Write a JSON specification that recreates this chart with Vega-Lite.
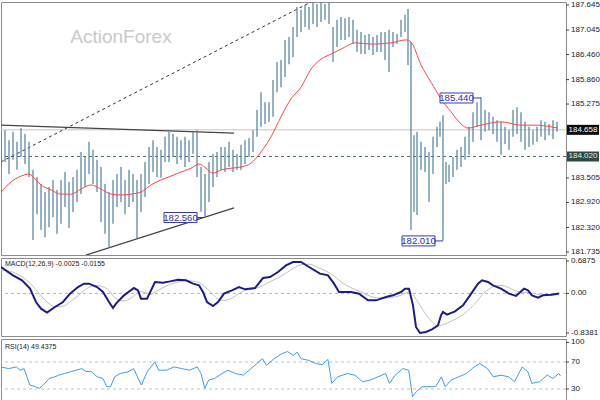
{
"$schema": "https://vega.github.io/schema/vega-lite/v6.json",
"padding": 0,
"spacing": 3,
"bounds": "flush",
"background": "white",
"config": {"view": {"stroke": "#8a8a8a"}, "axis": {"disable": true}},
"vconcat": [
{
"width": 565, "height": 253,
"layer": [
{"data": {"values": [{"p": 184.658}]}, "mark": {"type": "rule", "color": "#c4c4c4", "strokeWidth": 1},
 "encoding": {"y": {"field": "p", "type": "quantitative", "title": null, "scale": {"domain": [181.663, 187.717], "nice": false, "zero": false}}}},
{"data": {"values": [{"p": 184.02}]}, "mark": {"type": "rule", "color": "#4f6e66", "strokeWidth": 1, "strokeDash": [3, 3]},
 "encoding": {"y": {"field": "p", "type": "quantitative", "title": null}}},
{"data": {"values": [{"label": "ActionForex"}]}, "mark": {"type": "text", "font": "Liberation Sans", "fontSize": 19, "color": "#c9c9c9", "align": "center", "baseline": "middle"},
 "encoding": {"x": {"datum": 120, "type": "quantitative", "scale": {"domain": [0, 565], "nice": false, "zero": false}},
  "y": {"datum": 186.88, "type": "quantitative", "title": null}, "text": {"field": "label"}}},
{"data": {"values": [{"x1": 0, "y1": 183.89, "x2": 310, "y2": 187.717}]}, "mark": {"type": "rule", "color": "#333", "strokeWidth": 1, "strokeDash": [3, 3], "clip": true},
 "encoding": {"x": {"field": "x1", "type": "quantitative"}, "x2": {"field": "x2"},
  "y": {"field": "y1", "type": "quantitative", "title": null}, "y2": {"field": "y2"}}},
{"data": {"values": [{"x1": 0, "y1": 184.77, "x2": 233, "y2": 184.58}, {"x1": 85, "y1": 181.66, "x2": 233, "y2": 182.79}]}, "mark": {"type": "rule", "color": "#444", "strokeWidth": 1.2, "clip": true},
 "encoding": {"x": {"field": "x1", "type": "quantitative"}, "x2": {"field": "x2"},
  "y": {"field": "y1", "type": "quantitative", "title": null}, "y2": {"field": "y2"}}},
{"data": {"values": [
{"t":0,"hi":184.49,"lo":183.70},{"t":4,"hi":184.65,"lo":183.89},{"t":8,"hi":184.41,"lo":183.60},{"t":12,"hi":184.61,"lo":183.94},{"t":16,"hi":184.37,"lo":183.70},{"t":20,"hi":184.70,"lo":184.01},{"t":24,"hi":184.56,"lo":183.84},{"t":28,"hi":184.37,"lo":183.53},{"t":32,"hi":183.70,"lo":182.02},{"t":36,"hi":183.53,"lo":182.64},{"t":40,"hi":183.36,"lo":182.26},{"t":44,"hi":183.17,"lo":182.09},{"t":48,"hi":183.29,"lo":182.33},{"t":52,"hi":183.46,"lo":182.57},{"t":56,"hi":183.22,"lo":182.17},{"t":60,"hi":183.46,"lo":182.41},{"t":64,"hi":183.65,"lo":182.81},{"t":68,"hi":183.41,"lo":182.31},{"t":72,"hi":183.53,"lo":182.69},{"t":76,"hi":183.70,"lo":182.93},{"t":80,"hi":184.13,"lo":183.12},{"t":84,"hi":184.01,"lo":183.29},{"t":88,"hi":184.37,"lo":183.60},{"t":92,"hi":184.18,"lo":183.36},{"t":96,"hi":183.94,"lo":183.17},{"t":100,"hi":183.77,"lo":182.45},{"t":104,"hi":183.36,"lo":182.17},{"t":108,"hi":183.17,"lo":181.85},{"t":112,"hi":183.46,"lo":182.41},{"t":116,"hi":183.60,"lo":182.81},{"t":120,"hi":183.77,"lo":182.93},{"t":124,"hi":183.46,"lo":182.64},{"t":128,"hi":183.70,"lo":182.81},{"t":132,"hi":183.60,"lo":182.93},{"t":136,"hi":183.46,"lo":182.07},{"t":140,"hi":183.60,"lo":182.69},{"t":144,"hi":183.89,"lo":183.05},{"t":148,"hi":184.25,"lo":183.36},{"t":152,"hi":184.41,"lo":183.65},{"t":156,"hi":184.25,"lo":183.53},{"t":160,"hi":184.18,"lo":183.51},{"t":164,"hi":184.49,"lo":183.89},{"t":168,"hi":184.61,"lo":183.89},{"t":172,"hi":184.56,"lo":184.01},{"t":176,"hi":184.49,"lo":183.84},{"t":180,"hi":184.41,"lo":183.94},{"t":184,"hi":184.49,"lo":183.77},{"t":188,"hi":184.41,"lo":183.89},{"t":192,"hi":184.61,"lo":184.08},{"t":196,"hi":184.65,"lo":183.53},{"t":200,"hi":183.77,"lo":182.70},{"t":204,"hi":183.60,"lo":182.56},{"t":208,"hi":183.89,"lo":182.93},{"t":212,"hi":184.08,"lo":183.29},{"t":216,"hi":184.13,"lo":183.53},{"t":220,"hi":184.25,"lo":183.70},{"t":224,"hi":184.25,"lo":183.65},{"t":228,"hi":184.37,"lo":183.77},{"t":232,"hi":184.18,"lo":183.65},{"t":236,"hi":184.08,"lo":183.70},{"t":240,"hi":184.30,"lo":183.70},{"t":244,"hi":184.41,"lo":183.84},{"t":248,"hi":184.46,"lo":184.01},{"t":252,"hi":184.65,"lo":184.13},{"t":256,"hi":185.13,"lo":184.49},{"t":260,"hi":185.56,"lo":184.73},{"t":264,"hi":185.32,"lo":184.80},{"t":268,"hi":185.32,"lo":184.85},{"t":272,"hi":185.85,"lo":184.97},{"t":276,"hi":186.28,"lo":185.56},{"t":280,"hi":186.33,"lo":185.68},{"t":284,"hi":186.81,"lo":185.92},{"t":288,"hi":186.88,"lo":186.23},{"t":292,"hi":187.12,"lo":186.40},{"t":296,"hi":187.60,"lo":186.88},{"t":300,"hi":187.53,"lo":187.00},{"t":304,"hi":187.65,"lo":187.12},{"t":308,"hi":187.60,"lo":187.05},{"t":312,"hi":187.71,"lo":187.19},{"t":316,"hi":187.67,"lo":187.12},{"t":320,"hi":187.71,"lo":187.24},{"t":324,"hi":187.67,"lo":187.29},{"t":328,"hi":187.71,"lo":187.19},{"t":332,"hi":187.12,"lo":186.28},{"t":336,"hi":187.29,"lo":186.64},{"t":340,"hi":187.36,"lo":186.81},{"t":344,"hi":187.33,"lo":186.81},{"t":348,"hi":187.36,"lo":186.88},{"t":352,"hi":187.29,"lo":186.71},{"t":356,"hi":187.05,"lo":186.52},{"t":360,"hi":187.00,"lo":186.47},{"t":364,"hi":186.93,"lo":186.47},{"t":368,"hi":186.95,"lo":186.57},{"t":372,"hi":186.88,"lo":186.45},{"t":376,"hi":186.93,"lo":186.52},{"t":380,"hi":187.00,"lo":186.52},{"t":384,"hi":187.00,"lo":186.33},{"t":388,"hi":187.05,"lo":186.04},{"t":392,"hi":187.00,"lo":186.64},{"t":396,"hi":186.95,"lo":186.71},{"t":400,"hi":187.29,"lo":186.88},{"t":404,"hi":187.41,"lo":187.00},{"t":407,"hi":187.55,"lo":186.21},{"t":410,"hi":186.76,"lo":182.26},{"t":413,"hi":184.53,"lo":182.69},{"t":416,"hi":184.61,"lo":182.62},{"t":420,"hi":184.37,"lo":183.70},{"t":424,"hi":184.25,"lo":183.65},{"t":428,"hi":184.13,"lo":182.93},{"t":432,"hi":184.49,"lo":183.60},{"t":436,"hi":184.73,"lo":184.25},{"t":439,"hi":184.85,"lo":184.49},{"t":442,"hi":185.01,"lo":182.01},{"t":445,"hi":183.89,"lo":183.36},{"t":448,"hi":183.82,"lo":183.41},{"t":452,"hi":184.01,"lo":183.53},{"t":456,"hi":184.18,"lo":183.70},{"t":460,"hi":184.25,"lo":183.77},{"t":464,"hi":184.49,"lo":183.94},{"t":468,"hi":184.73,"lo":184.06},{"t":472,"hi":185.08,"lo":184.37},{"t":476,"hi":185.32,"lo":184.73},{"t":480,"hi":185.44,"lo":184.41},{"t":484,"hi":185.13,"lo":184.61},{"t":488,"hi":185.08,"lo":184.65},{"t":492,"hi":184.97,"lo":184.56},{"t":496,"hi":184.89,"lo":184.37},{"t":500,"hi":184.85,"lo":184.06},{"t":504,"hi":184.73,"lo":184.32},{"t":508,"hi":184.65,"lo":184.18},{"t":512,"hi":185.13,"lo":184.49},{"t":516,"hi":185.20,"lo":184.56},{"t":520,"hi":185.08,"lo":184.37},{"t":524,"hi":184.85,"lo":184.18},{"t":528,"hi":184.73,"lo":184.25},{"t":532,"hi":184.65,"lo":184.30},{"t":536,"hi":184.73,"lo":184.37},{"t":540,"hi":184.89,"lo":184.49},{"t":544,"hi":184.85,"lo":184.41},{"t":548,"hi":184.80,"lo":184.53},{"t":552,"hi":184.89,"lo":184.44},{"t":556,"hi":184.85,"lo":184.61}
]}, "mark": {"type": "rule", "color": "#5e8aa5", "strokeWidth": 1.3, "clip": true},
 "encoding": {"x": {"field": "t", "type": "quantitative"},
  "y": {"field": "lo", "type": "quantitative", "title": null}, "y2": {"field": "hi"}}},
{"data": {"values": [
{"t":0,"ma":183.17},{"t":10,"ma":183.41},{"t":20,"ma":183.55},{"t":28,"ma":183.60},{"t":35,"ma":183.46},{"t":40,"ma":183.34},{"t":50,"ma":183.22},{"t":60,"ma":183.12},{"t":70,"ma":183.12},{"t":80,"ma":183.24},{"t":90,"ma":183.34},{"t":100,"ma":183.24},{"t":110,"ma":183.12},{"t":120,"ma":183.10},{"t":130,"ma":183.12},{"t":140,"ma":183.17},{"t":150,"ma":183.34},{"t":160,"ma":183.46},{"t":170,"ma":183.55},{"t":180,"ma":183.65},{"t":190,"ma":183.74},{"t":198,"ma":183.84},{"t":205,"ma":183.74},{"t":212,"ma":183.62},{"t":220,"ma":183.70},{"t":230,"ma":183.74},{"t":240,"ma":183.77},{"t":250,"ma":183.86},{"t":260,"ma":184.13},{"t":270,"ma":184.49},{"t":280,"ma":184.97},{"t":290,"ma":185.40},{"t":300,"ma":185.68},{"t":310,"ma":186.11},{"t":320,"ma":186.35},{"t":330,"ma":186.47},{"t":340,"ma":186.59},{"t":355,"ma":186.74},{"t":370,"ma":186.71},{"t":390,"ma":186.74},{"t":405,"ma":186.81},{"t":410,"ma":186.76},{"t":420,"ma":186.21},{"t":430,"ma":185.80},{"t":440,"ma":185.40},{"t":450,"ma":185.09},{"t":460,"ma":184.80},{"t":467,"ma":184.70},{"t":480,"ma":184.77},{"t":500,"ma":184.85},{"t":520,"ma":184.77},{"t":535,"ma":184.77},{"t":550,"ma":184.73},{"t":557,"ma":184.70}
]}, "mark": {"type": "line", "color": "#ff4747", "strokeWidth": 1, "interpolate": "monotone", "clip": true},
 "encoding": {"x": {"field": "t", "type": "quantitative"},
  "y": {"field": "ma", "type": "quantitative", "title": null}}},
{"data": {"values": [{"t": 204, "p": 182.56, "label": "182.560"}, {"t": 442, "p": 182.0, "label": "182.010"}, {"t": 480, "p": 185.42, "label": "185.440"}]},
 "layer": [
  {"mark": {"type": "rule", "color": "#3a3ac0", "strokeWidth": 1, "xOffset": -8, "x2Offset": 0},
   "encoding": {"x": {"field": "t", "type": "quantitative"}, "x2": {"field": "t"},
    "y": {"field": "p", "type": "quantitative", "title": null}, "y2": {"field": "p"}}},
  {"mark": {"type": "rect", "fill": "white", "stroke": "#3a3ac0", "strokeWidth": 1, "xOffset": -41, "x2Offset": -8, "yOffset": -5, "y2Offset": 5},
   "encoding": {"x": {"field": "t", "type": "quantitative"}, "x2": {"field": "t"},
    "y": {"field": "p", "type": "quantitative", "title": null}, "y2": {"field": "p"}}},
  {"mark": {"type": "text", "color": "#2d2db4", "font": "Liberation Sans", "fontSize": 9.5, "align": "center", "baseline": "middle", "dx": -24.5, "dy": 0.5},
   "encoding": {"x": {"field": "t", "type": "quantitative"},
    "y": {"field": "p", "type": "quantitative", "title": null}, "text": {"field": "label"}}}
 ]},
{"data": {"values": [{"v": 187.645, "label": "187.645"}, {"v": 187.045, "label": "187.045"}, {"v": 186.46, "label": "186.460"}, {"v": 185.86, "label": "185.860"}, {"v": 185.275, "label": "185.275"}, {"v": 183.505, "label": "183.505"}, {"v": 182.92, "label": "182.920"}, {"v": 182.32, "label": "182.320"}, {"v": 181.735, "label": "181.735"}]},
 "layer": [
  {"mark": {"type": "rule", "color": "#444", "strokeWidth": 1, "x2Offset": 3},
   "encoding": {"x": {"datum": 565, "type": "quantitative"}, "x2": {"datum": 565},
    "y": {"field": "v", "type": "quantitative", "title": null}}},
  {"mark": {"type": "text", "color": "#222", "font": "Liberation Sans", "fontSize": 8, "align": "left", "baseline": "middle", "dx": 5},
   "encoding": {"x": {"datum": 565, "type": "quantitative"},
    "y": {"field": "v", "type": "quantitative", "title": null}, "text": {"field": "label"}}}
 ]},
{"data": {"values": [{"p": 184.658, "label": "184.658"}]},
 "layer": [
  {"mark": {"type": "rect", "fill": "#0a0a0a", "xOffset": 1, "x2Offset": 33, "yOffset": -5, "y2Offset": 5},
   "encoding": {"x": {"datum": 565, "type": "quantitative"}, "x2": {"datum": 565},
    "y": {"field": "p", "type": "quantitative", "title": null}, "y2": {"field": "p"}}},
  {"mark": {"type": "text", "color": "white", "font": "Liberation Sans", "fontSize": 8, "align": "center", "baseline": "middle", "dx": 17},
   "encoding": {"x": {"datum": 565, "type": "quantitative"},
    "y": {"field": "p", "type": "quantitative", "title": null}, "text": {"field": "label"}}}
 ]},
{"data": {"values": [{"p": 184.02, "label": "184.020"}]},
 "layer": [
  {"mark": {"type": "rect", "fill": "#2e4a44", "xOffset": 1, "x2Offset": 33, "yOffset": -5, "y2Offset": 5},
   "encoding": {"x": {"datum": 565, "type": "quantitative"}, "x2": {"datum": 565},
    "y": {"field": "p", "type": "quantitative", "title": null}, "y2": {"field": "p"}}},
  {"mark": {"type": "text", "color": "#e8e8e8", "font": "Liberation Sans", "fontSize": 8, "align": "center", "baseline": "middle", "dx": 17},
   "encoding": {"x": {"datum": 565, "type": "quantitative"},
    "y": {"field": "p", "type": "quantitative", "title": null}, "text": {"field": "label"}}}
 ]}
],
"resolve": {"scale": {"x": "shared", "y": "shared"}}
},
{
"width": 565, "height": 78,
"layer": [
{"data": {"values": [{"z": 0}]}, "mark": {"type": "rule", "color": "#b5b5b5", "strokeWidth": 1, "strokeDash": [3, 3]},
 "encoding": {"y": {"field": "z", "type": "quantitative", "title": null, "scale": {"domain": [-0.902, 0.751], "nice": false, "zero": false}}}},
{"data": {"values": [
{"t":0,"m":0.56,"s":0.50},{"t":12,"m":0.384,"s":0.45},{"t":21,"m":0.278,"s":0.35},{"t":29,"m":0.101,"s":0.22},{"t":35,"m":-0.181,"s":0.08},{"t":40,"m":-0.323,"s":-0.05},{"t":46,"m":-0.407,"s":-0.18},{"t":54,"m":-0.287,"s":-0.28},{"t":62,"m":-0.181,"s":-0.27},{"t":69,"m":-0.005,"s":-0.18},{"t":77,"m":0.136,"s":-0.05},{"t":83,"m":0.207,"s":0.06},{"t":88,"m":0.207,"s":0.13},{"t":96,"m":0.136,"s":0.17},{"t":102,"m":0.03,"s":0.14},{"t":108,"m":-0.181,"s":0.06},{"t":112,"m":-0.309,"s":-0.05},{"t":115,"m":-0.217,"s":-0.11},{"t":123,"m":-0.04,"s":-0.16},{"t":133,"m":0.115,"s":-0.05},{"t":137,"m":0.066,"s":0.02},{"t":140,"m":-0.111,"s":0.04},{"t":146,"m":-0.111,"s":0.0},{"t":150,"m":0.066,"s":-0.02},{"t":154,"m":0.242,"s":0.03},{"t":162,"m":0.228,"s":0.12},{"t":169,"m":0.256,"s":0.19},{"t":177,"m":0.292,"s":0.24},{"t":185,"m":0.278,"s":0.27},{"t":192,"m":0.207,"s":0.26},{"t":198,"m":0.172,"s":0.23},{"t":202,"m":0.03,"s":0.17},{"t":206,"m":-0.181,"s":0.10},{"t":212,"m":-0.266,"s":-0.02},{"t":217,"m":-0.181,"s":-0.12},{"t":223,"m":-0.005,"s":-0.15},{"t":231,"m":0.066,"s":-0.10},{"t":238,"m":0.136,"s":0.0},{"t":244,"m":0.087,"s":0.06},{"t":254,"m":0.115,"s":0.10},{"t":262,"m":0.327,"s":0.17},{"t":269,"m":0.348,"s":0.25},{"t":277,"m":0.454,"s":0.33},{"t":285,"m":0.595,"s":0.43},{"t":292,"m":0.666,"s":0.53},{"t":300,"m":0.666,"s":0.61},{"t":308,"m":0.56,"s":0.62},{"t":319,"m":0.419,"s":0.53},{"t":327,"m":0.384,"s":0.45},{"t":333,"m":0.207,"s":0.37},{"t":338,"m":0.03,"s":0.28},{"t":350,"m":0.03,"s":0.12},{"t":358,"m":-0.005,"s":0.05},{"t":367,"m":-0.146,"s":-0.04},{"t":375,"m":-0.146,"s":-0.09},{"t":385,"m":-0.076,"s":-0.10},{"t":392,"m":-0.04,"s":-0.08},{"t":400,"m":0.03,"s":-0.04},{"t":404,"m":0.101,"s":0.0},{"t":408,"m":0.101,"s":0.03},{"t":412,"m":-0.252,"s":-0.02},{"t":415,"m":-0.711,"s":-0.12},{"t":419,"m":-0.838,"s":-0.25},{"t":425,"m":-0.817,"s":-0.45},{"t":431,"m":-0.761,"s":-0.60},{"t":437,"m":-0.676,"s":-0.68},{"t":440,"m":-0.464,"s":-0.68},{"t":442,"m":-0.393,"s":-0.66},{"t":446,"m":-0.45,"s":-0.63},{"t":454,"m":-0.379,"s":-0.55},{"t":462,"m":-0.252,"s":-0.45},{"t":469,"m":-0.04,"s":-0.32},{"t":477,"m":0.207,"s":-0.14},{"t":481,"m":0.278,"s":-0.03},{"t":487,"m":0.242,"s":0.08},{"t":492,"m":0.172,"s":0.14},{"t":500,"m":0.101,"s":0.17},{"t":508,"m":-0.005,"s":0.12},{"t":515,"m":-0.054,"s":0.05},{"t":523,"m":0.101,"s":0.02},{"t":527,"m":0.066,"s":0.02},{"t":531,"m":-0.04,"s":0.01},{"t":537,"m":-0.09,"s":-0.02},{"t":542,"m":-0.04,"s":-0.04},{"t":550,"m":-0.026,"s":-0.04},{"t":558,"m":-0.0025,"s":-0.0155}
]},
 "layer": [
  {"mark": {"type": "line", "color": "#c2c2c2", "strokeWidth": 1, "interpolate": "monotone", "clip": true},
   "encoding": {"x": {"field": "t", "type": "quantitative", "scale": {"domain": [0, 565], "nice": false, "zero": false}},
    "y": {"field": "s", "type": "quantitative", "title": null}}},
  {"mark": {"type": "line", "color": "#1c1c8e", "strokeWidth": 2, "clip": true},
   "encoding": {"x": {"field": "t", "type": "quantitative"},
    "y": {"field": "m", "type": "quantitative", "title": null}}}
 ]},
{"data": {"values": [{"v": 0.6875, "label": "0.6875"}, {"v": 0, "label": "0.00"}, {"v": -0.8381, "label": "-0.8381"}]},
 "layer": [
  {"mark": {"type": "rule", "color": "#444", "strokeWidth": 1, "x2Offset": 3},
   "encoding": {"x": {"datum": 565, "type": "quantitative"}, "x2": {"datum": 565},
    "y": {"field": "v", "type": "quantitative", "title": null}}},
  {"mark": {"type": "text", "color": "#222", "font": "Liberation Sans", "fontSize": 8, "align": "left", "baseline": "middle", "dx": 5},
   "encoding": {"x": {"datum": 565, "type": "quantitative"},
    "y": {"field": "v", "type": "quantitative", "title": null}, "text": {"field": "label"}}}
 ]},
{"data": {"values": [{"label": "MACD(12,26,9) -0.0025 -0.0155"}]}, "mark": {"type": "text", "font": "Liberation Sans", "fontSize": 7, "color": "#222", "align": "left", "baseline": "middle"},
 "encoding": {"x": {"datum": 4, "type": "quantitative"},
  "y": {"datum": 0.62, "type": "quantitative", "title": null}, "text": {"field": "label"}}}
],
"resolve": {"scale": {"x": "shared", "y": "shared"}}
},
{
"width": 565, "height": 63,
"layer": [
{"data": {"values": [{"lv": 70}, {"lv": 30}]}, "mark": {"type": "rule", "color": "#c2c2c2", "strokeWidth": 1, "strokeDash": [3, 3]},
 "encoding": {"y": {"field": "lv", "type": "quantitative", "title": null, "scale": {"domain": [10.7, 104.1], "nice": false, "zero": false}}}},
{"data": {"values": [
{"t":0,"r":62.7},{"t":7.7,"r":60.2},{"t":15.4,"r":62.7},{"t":19.2,"r":57.8},{"t":23.1,"r":60.2},{"t":28.8,"r":35.9},{"t":34.6,"r":33.4},{"t":38.5,"r":31.0},{"t":42.3,"r":35.9},{"t":48.1,"r":45.6},{"t":53.8,"r":48.0},{"t":57.7,"r":50.5},{"t":63.5,"r":52.9},{"t":69.2,"r":55.4},{"t":75,"r":57.8},{"t":80.8,"r":60.2},{"t":84.6,"r":56.3},{"t":90.4,"r":55.4},{"t":96.2,"r":48.0},{"t":101.9,"r":45.6},{"t":105.8,"r":33.4},{"t":109.6,"r":33.4},{"t":113.5,"r":48.0},{"t":119.2,"r":52.9},{"t":126.9,"r":55.4},{"t":132.7,"r":60.2},{"t":136.5,"r":48.0},{"t":140.4,"r":35.9},{"t":146.2,"r":55.4},{"t":153.8,"r":70.0},{"t":157.7,"r":57.8},{"t":165.4,"r":57.8},{"t":173.1,"r":62.7},{"t":180.8,"r":60.2},{"t":188.5,"r":57.8},{"t":196.2,"r":62.7},{"t":200,"r":52.9},{"t":203.8,"r":31.0},{"t":207.7,"r":43.2},{"t":213.5,"r":45.6},{"t":221.2,"r":52.9},{"t":226.9,"r":57.8},{"t":234.6,"r":52.9},{"t":242.3,"r":50.5},{"t":250,"r":60.2},{"t":255.8,"r":67.6},{"t":261.5,"r":74.9},{"t":265.4,"r":65.1},{"t":273.1,"r":74.9},{"t":280.8,"r":82.2},{"t":286.5,"r":85.6},{"t":292.3,"r":79.8},{"t":296.2,"r":84.6},{"t":300,"r":74.9},{"t":307.7,"r":72.4},{"t":315.4,"r":67.6},{"t":321.2,"r":66.1},{"t":326.9,"r":73.9},{"t":330.8,"r":38.3},{"t":336.5,"r":48.0},{"t":346.2,"r":52.9},{"t":353.8,"r":50.5},{"t":361.5,"r":40.7},{"t":369.2,"r":43.2},{"t":376.9,"r":48.0},{"t":384.6,"r":52.9},{"t":388.5,"r":38.3},{"t":394.2,"r":50.5},{"t":401.9,"r":60.2},{"t":407.7,"r":57.8},{"t":411.5,"r":18.8},{"t":415.4,"r":26.1},{"t":421.2,"r":33.4},{"t":426.9,"r":33.4},{"t":434.6,"r":33.4},{"t":440.4,"r":48.0},{"t":444.2,"r":33.4},{"t":450,"r":43.2},{"t":457.7,"r":48.0},{"t":465.4,"r":52.9},{"t":473.1,"r":62.7},{"t":478.8,"r":67.6},{"t":486.5,"r":60.2},{"t":492.3,"r":48.0},{"t":500,"r":50.5},{"t":507.7,"r":48.0},{"t":513.5,"r":40.7},{"t":521.2,"r":62.7},{"t":526.9,"r":55.4},{"t":530.8,"r":38.3},{"t":538.5,"r":40.7},{"t":546.2,"r":50.5},{"t":551.9,"r":45.6},{"t":557.7,"r":52.9},{"t":559.6,"r":49.4}
]}, "mark": {"type": "line", "color": "#3f9cf2", "strokeWidth": 1, "clip": true},
 "encoding": {"x": {"field": "t", "type": "quantitative", "scale": {"domain": [0, 565], "nice": false, "zero": false}},
  "y": {"field": "r", "type": "quantitative", "title": null}}},
{"data": {"values": [{"v": 70, "label": "70"}, {"v": 30, "label": "30"}, {"v": 99, "label": "100"}]},
 "layer": [
  {"mark": {"type": "rule", "color": "#444", "strokeWidth": 1, "x2Offset": 3},
   "encoding": {"x": {"datum": 565, "type": "quantitative"}, "x2": {"datum": 565},
    "y": {"field": "v", "type": "quantitative", "title": null}}},
  {"mark": {"type": "text", "color": "#222", "font": "Liberation Sans", "fontSize": 8, "align": "left", "baseline": "middle", "dx": 5},
   "encoding": {"x": {"datum": 565, "type": "quantitative"},
    "y": {"field": "v", "type": "quantitative", "title": null}, "text": {"field": "label"}}}
 ]},
{"data": {"values": [{"label": "RSI(14) 49.4375"}]}, "mark": {"type": "text", "font": "Liberation Sans", "fontSize": 7, "color": "#222", "align": "left", "baseline": "middle"},
 "encoding": {"x": {"datum": 4, "type": "quantitative"},
  "y": {"datum": 92.2, "type": "quantitative", "title": null}, "text": {"field": "label"}}}
],
"resolve": {"scale": {"x": "shared", "y": "shared"}}
}
]
}
